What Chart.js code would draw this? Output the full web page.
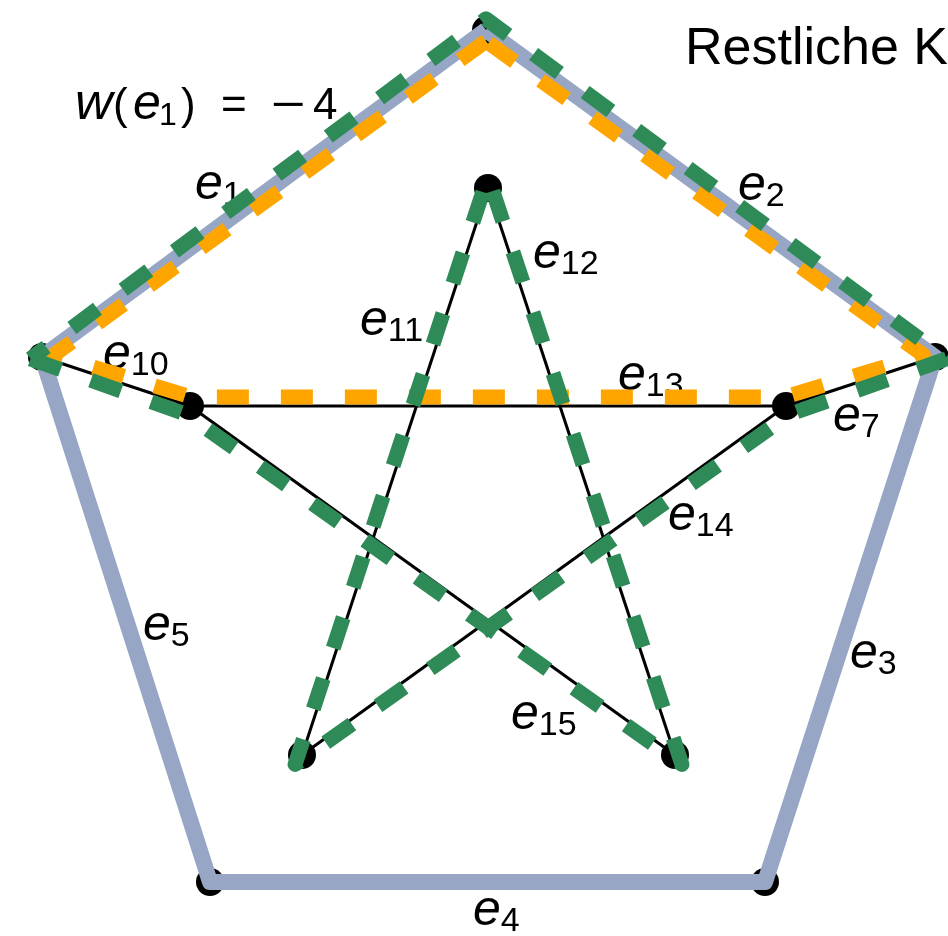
<!DOCTYPE html>
<html lang="de">
<head>
<meta charset="UTF-8">
<title>Graph</title>
<script src="https://cdn.jsdelivr.net/npm/chart.js"></script>
<style>
    body { margin: 0; background: #fff; }
    #wrap { width: 948px; height: 936px; }
</style>
</head>
<body>
<div id="wrap"><canvas id="grafo"></canvas></div>
<script>
    // Knoten: 0-4 aussen (oben, rechts, unten rechts, unten links, links), 5-9 innen
    var knotenX = [486, 935, 765, 210, 42, 488, 786, 675, 302, 190];
    var knotenY = [30, 357, 882, 882, 357, 188, 406, 755, 755, 406];

    // Kanten e_nr : von -> nach
    var kantenNr   = [1, 2, 3, 4, 5, 7, 10, 11, 12, 13, 14, 15];
    var kantenVon  = [0, 0, 1, 2, 3, 6, 9, 5, 5, 9, 6, 9];
    var kantenNach = [4, 1, 2, 3, 4, 1, 4, 8, 7, 6, 8, 7];
    var gerichtet  = [7, 10];

    // Kreise
    var aussenKreis  = [0, 1, 2, 3, 4];
    var gruenerKreis = [4, 9, 7, 5, 8, 6, 1, 0];
    var orangerKreis = [0, 4, 9, 6, 1];

    var gewicht = -4;
    var titel = 'Restliche K';

    // Lage der Kantenbeschriftung (Grundlinie)
    var labelNr = [1, 2, 3, 4, 5, 7, 10, 11, 12, 13, 14, 15];
    var labelX  = [195, 738, 850, 473, 143, 833, 103, 360, 533, 618, 668, 511];
    var labelY  = [199, 200, 668, 925, 640, 431, 369, 335, 268, 390, 530, 729];

    function normale(a, b) {
        var dx = knotenX[b] - knotenX[a], dy = knotenY[b] - knotenY[a];
        var l = Math.hypot(dx, dy);
        return [-dy / l, dx / l];
    }

    // Kreis seitlich versetzt (d > 0 rechts der Laufrichtung)
    function versetzt(kreis, d) {
        var n = kreis.length, pts = [];
        for (var i = 0; i < n; i++) {
            var a = kreis[(i - 1 + n) % n], b = kreis[i], c = kreis[(i + 1) % n];
            var n1 = normale(a, b), n2 = normale(b, c);
            var mx = n1[0] + n2[0], my = n1[1] + n2[1];
            var len = Math.hypot(mx, my) || 1;
            mx /= len; my /= len;
            // spitze Ecken nicht zu weit hinausschieben
            var cos = Math.max(mx * n1[0] + my * n1[1], 0.77);
            pts.push({ x: knotenX[b] + mx * d / cos, y: knotenY[b] + my * d / cos });
        }
        pts.push(pts[0]);
        return pts;
    }

    var datasets = [];

    // duenne schwarze Kanten
    for (var i = 0; i < kantenNr.length; i++) {
        datasets.push({
            data: [{ x: knotenX[kantenVon[i]], y: knotenY[kantenVon[i]] },
                   { x: knotenX[kantenNach[i]], y: knotenY[kantenNach[i]] }],
            showLine: true, borderColor: '#000', borderWidth: 3,
            pointRadius: 0, order: 50
        });
    }

    // Knoten
    datasets.push({
        data: knotenX.map(function (x, k) { return { x: x, y: knotenY[k] }; }),
        showLine: false, pointRadius: 14, pointBackgroundColor: '#000',
        pointBorderWidth: 0, order: 40
    });

    // aeusseres Fuenfeck
    datasets.push({
        data: aussenKreis.concat([aussenKreis[0]]).map(function (k) { return { x: knotenX[k], y: knotenY[k] }; }),
        showLine: true, borderColor: '#97a6c5', borderWidth: 16,
        borderJoinStyle: 'round', pointRadius: 0, order: 30
    });

    // Pfeilspitzen
    var pfeile = [], drehung = [];
    gerichtet.forEach(function (nr) {
        var i = kantenNr.indexOf(nr);
        var a = kantenVon[i], b = kantenNach[i];
        var dx = knotenX[b] - knotenX[a], dy = knotenY[b] - knotenY[a];
        var l = Math.hypot(dx, dy);
        pfeile.push({ x: knotenX[b] - dx / l * 15, y: knotenY[b] - dy / l * 15 });
        drehung.push(Math.atan2(dx, -dy) * 180 / Math.PI);
    });
    datasets.push({
        data: pfeile, showLine: false, pointStyle: 'triangle', pointRadius: 7,
        pointRotation: drehung, pointBackgroundColor: '#000', pointBorderColor: '#000',
        pointBorderWidth: 1, order: 25
    });

    // oranger Kreis
    datasets.push({
        data: versetzt(orangerKreis, -9),
        showLine: true, borderColor: '#ffa500', borderWidth: 15,
        borderDash: [32, 32], borderJoinStyle: 'round', borderCapStyle: 'butt',
        pointRadius: 0, order: 20
    });

    // gruener Kreis
    datasets.push({
        data: versetzt(gruenerKreis, 9),
        showLine: true, borderColor: '#2e8b57', borderWidth: 15,
        borderDash: [32, 32], borderJoinStyle: 'round', borderCapStyle: 'butt',
        pointRadius: 0, order: 10
    });

    var beschriftung = {
        id: 'beschriftung',
        beforeDatasetsDraw: function (chart) {
            var ctx = chart.ctx, sx = chart.scales.x, sy = chart.scales.y;
            ctx.save();
            ctx.fillStyle = '#000';
            ctx.textBaseline = 'alphabetic';
            ctx.textAlign = 'left';
            for (var i = 0; i < labelNr.length; i++) {
                var x = sx.getPixelForValue(labelX[i]), y = sy.getPixelForValue(labelY[i]);
                ctx.font = 'italic 50px "Liberation Sans"';
                ctx.fillText('e', x, y);
                var w = ctx.measureText('e').width;
                ctx.font = '34px "Liberation Sans"';
                ctx.fillText(String(labelNr[i]), x + w, y + 6);
            }

            // w(e1) = -4
            var x0 = 75, y0 = 119;
            ctx.font = 'italic 52px "Liberation Sans"';
            ctx.fillText('w', x0, y0);
            ctx.font = '44px "Liberation Sans"';
            ctx.fillText('(', x0 + 38, y0);
            ctx.font = 'italic 50px "Liberation Sans"';
            ctx.fillText('e', x0 + 58, y0);
            ctx.font = '32px "Liberation Sans"';
            ctx.fillText('1', x0 + 84, y0 + 6);
            ctx.font = '44px "Liberation Sans"';
            ctx.fillText(')', x0 + 106, y0);
            ctx.fillText('=', x0 + 146, y0);
            ctx.save();
            ctx.translate(x0 + 196, y0);
            ctx.scale(1.35, 1);
            ctx.fillText('\u2212', 0, 0);
            ctx.restore();
            ctx.fillText(String(Math.abs(gewicht)), x0 + 238, y0);

            ctx.font = '52px "Liberation Sans"';
            ctx.fillText(titel, 685, 64);
            ctx.restore();
        }
    };

    new Chart(document.getElementById('grafo'), {
        type: 'scatter',
        data: { datasets: datasets },
        options: {
            responsive: true,
            maintainAspectRatio: false,
            animation: false,
            events: [],
            layout: { padding: 0, autoPadding: false },
            plugins: { legend: { display: false }, tooltip: { enabled: false } },
            scales: {
                x: { type: 'linear', min: 0, max: 948, display: false },
                y: { type: 'linear', min: 0, max: 936, reverse: true, display: false }
            }
        },
        plugins: [beschriftung]
    });
</script>
</body>
</html>
